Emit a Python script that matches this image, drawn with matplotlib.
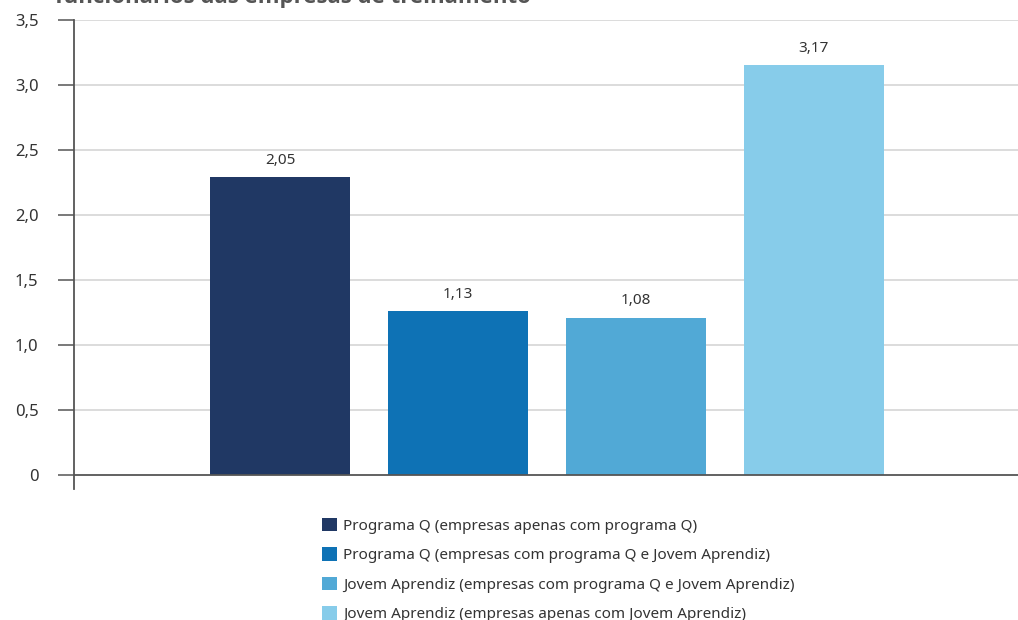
import matplotlib
matplotlib.use('Agg')
import matplotlib.pyplot as plt

plt.rcParams['font.family'] = ['Noto Sans', 'DejaVu Sans']

# dados
categorias = ['Programa Q (empresas apenas com programa Q)',
              'Programa Q (empresas com programa Q e Jovem Aprendiz)',
              'Jovem Aprendiz (empresas com programa Q e Jovem Aprendiz)',
              'Jovem Aprendiz (empresas apenas com Jovem Aprendiz)']
alturas = [2.29, 1.26, 1.21, 3.15]          # altura desenhada das barras
rotulos = ['2,05', '1,13', '1,08', '3,17']  # valores impressos acima
cores = ['#203864', '#0e72b5', '#51a9d6', '#87ccea']
yticks = [0, 0.5, 1.0, 1.5, 2.0, 2.5, 3.0, 3.5]
ytick_labels = ['0', '0,5', '1,0', '1,5', '2,0', '2,5', '3,0', '3,5']
titulo = 'funcionários das empresas de treinamento'

fig = plt.figure(figsize=(10.18, 6.2), dpi=100)
ax = fig.add_axes([74 / 1018, 1 - 489 / 620, 1 - 74 / 1018, (489 - 20) / 620])

x = list(range(len(alturas)))
barras = ax.bar(x, alturas, width=0.787, color=cores, zorder=3)

for xi, h, r in zip(x, alturas, rotulos):
    ax.annotate(r, xy=(xi, h), xytext=(0, 6.5), textcoords='offset points',
                ha='center', va='bottom', fontsize=11, color='#333333')

ax.set_xlim(-1.157, 4.146)
ax.set_ylim(-0.11, 3.5)
ax.set_yticks(yticks)
ax.set_yticklabels(ytick_labels)
ax.set_xticks([])

for v in yticks[1:]:
    ax.axhline(v, color='#d9d9d9', lw=1.3, zorder=1)
ax.axhline(0, color='#555555', lw=1.3, zorder=4)

for s in ['top', 'right', 'bottom']:
    ax.spines[s].set_visible(False)
ax.spines['left'].set_color('#555555')
ax.spines['left'].set_linewidth(1.3)
ax.tick_params(axis='y', direction='out', length=11.5, width=1.1,
               color='#555555', pad=14, labelsize=12, labelcolor='#333333')

fig.text(55 / 1018, 1 - 3 / 620, titulo, ha='left', va='baseline',
         fontsize=16, fontweight='bold', color='#555555',
         family=['Open Sans', 'DejaVu Sans'])

fig.legend(barras, categorias, loc='upper left',
           bbox_to_anchor=(314 / 1018, 1 - 510 / 620), frameon=False,
           fontsize=11, handlelength=1.0, handleheight=1.0,
           handletextpad=0.4, labelspacing=0.88, borderpad=0,
           labelcolor='#333333')

fig.savefig('out.png', dpi=100)
